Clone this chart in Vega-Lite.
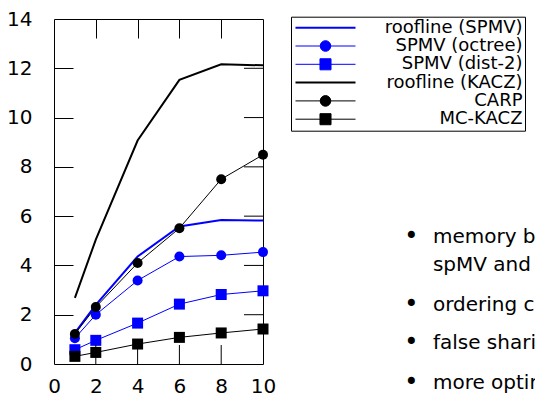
{
  "$schema": "https://vega.github.io/schema/vega-lite/v6.json",
  "autosize": "none",
  "padding": {"left": 54, "top": 19, "right": 272, "bottom": 32},
  "width": 209,
  "height": 345,
  "background": "white",
  "config": {
    "view": {"stroke": "black", "strokeWidth": 1},
    "axis": {"grid": false, "domain": false, "title": null, "labelFlush": false, "labelOverlap": false, "labelFont": "DejaVu Sans", "labelFontSize": 20, "labelColor": "black", "tickColor": "black", "tickWidth": 1},
    "text": {"font": "DejaVu Sans", "color": "black"}
  },
  "datasets": {
    "series": [
      {"series": "roofline (SPMV)", "x": 1, "y": 1.26},
      {"series": "roofline (SPMV)", "x": 2, "y": 2.4},
      {"series": "roofline (SPMV)", "x": 4, "y": 4.36},
      {"series": "roofline (SPMV)", "x": 6, "y": 5.58},
      {"series": "roofline (SPMV)", "x": 8, "y": 5.84},
      {"series": "roofline (SPMV)", "x": 10, "y": 5.82},
      {"series": "SPMV (octree)", "x": 1, "y": 1.05},
      {"series": "SPMV (octree)", "x": 2, "y": 2.0},
      {"series": "SPMV (octree)", "x": 4, "y": 3.39},
      {"series": "SPMV (octree)", "x": 6, "y": 4.36},
      {"series": "SPMV (octree)", "x": 8, "y": 4.41},
      {"series": "SPMV (octree)", "x": 10, "y": 4.54},
      {"series": "SPMV (dist-2)", "x": 1, "y": 0.58},
      {"series": "SPMV (dist-2)", "x": 2, "y": 0.96},
      {"series": "SPMV (dist-2)", "x": 4, "y": 1.66},
      {"series": "SPMV (dist-2)", "x": 6, "y": 2.43},
      {"series": "SPMV (dist-2)", "x": 8, "y": 2.82},
      {"series": "SPMV (dist-2)", "x": 10, "y": 2.97},
      {"series": "roofline (KACZ)", "x": 1, "y": 2.68},
      {"series": "roofline (KACZ)", "x": 2, "y": 5.05},
      {"series": "roofline (KACZ)", "x": 4, "y": 9.07},
      {"series": "roofline (KACZ)", "x": 6, "y": 11.53},
      {"series": "roofline (KACZ)", "x": 8, "y": 12.16},
      {"series": "roofline (KACZ)", "x": 10, "y": 12.12},
      {"series": "CARP", "x": 1, "y": 1.22},
      {"series": "CARP", "x": 2, "y": 2.31},
      {"series": "CARP", "x": 4, "y": 4.1},
      {"series": "CARP", "x": 6, "y": 5.51},
      {"series": "CARP", "x": 8, "y": 7.5},
      {"series": "CARP", "x": 10, "y": 8.49},
      {"series": "MC-KACZ", "x": 1, "y": 0.31},
      {"series": "MC-KACZ", "x": 2, "y": 0.47},
      {"series": "MC-KACZ", "x": 4, "y": 0.81},
      {"series": "MC-KACZ", "x": 6, "y": 1.08},
      {"series": "MC-KACZ", "x": 8, "y": 1.26},
      {"series": "MC-KACZ", "x": 10, "y": 1.42}
    ],
    "tickmarks": [
      {"side": "y", "v": 2}, {"side": "y", "v": 4}, {"side": "y", "v": 6},
      {"side": "y", "v": 8}, {"side": "y", "v": 10}, {"side": "y", "v": 12},
      {"side": "x", "v": 2}, {"side": "x", "v": 4}, {"side": "x", "v": 6}, {"side": "x", "v": 8}
    ],
    "notes": [
      {"x": 18.13, "y": 5.16, "bullet": true, "text": "memory bound kernels"},
      {"x": 18.13, "y": 4.02, "bullet": false, "text": "spMV and CARP"},
      {"x": 18.13, "y": 2.39, "bullet": true, "text": "ordering constraints"},
      {"x": 18.13, "y": 0.85, "bullet": true, "text": "false sharing"},
      {"x": 18.13, "y": -0.77, "bullet": true, "text": "more optimization"}
    ]
  },
  "resolve": {"axis": {"x": "independent", "y": "independent"}},
  "layer": [
    {
      "data": {"name": "series"},
      "mark": {"type": "line"},
      "encoding": {
        "x": {"field": "x", "type": "quantitative", "scale": {"domain": [0, 10], "nice": false, "zero": false},
              "axis": {"orient": "bottom", "values": [0, 2, 4, 6, 8, 10], "labelPadding": 12, "ticks": false}},
        "y": {"field": "y", "type": "quantitative", "scale": {"domain": [0, 14], "nice": false},
              "axis": {"orient": "left", "values": [0, 2, 4, 6, 8, 10, 12, 14], "labelPadding": 22, "ticks": false}},
        "detail": {"field": "series"},
        "strokeWidth": {"field": "series", "type": "nominal", "legend": null,
          "scale": {"type": "ordinal", "domain": ["roofline (SPMV)", "SPMV (octree)", "SPMV (dist-2)", "roofline (KACZ)", "CARP", "MC-KACZ"], "range": [2, 1, 1, 2, 1, 1]}},
        "color": {"field": "series", "type": "nominal",
          "scale": {"domain": ["roofline (SPMV)", "SPMV (octree)", "SPMV (dist-2)", "roofline (KACZ)", "CARP", "MC-KACZ"], "range": ["#0000ff", "#0000ff", "#0000ff", "#000000", "#000000", "#000000"]},
          "legend": {
            "orient": "none", "legendX": 237, "legendY": -2.3, "title": null,
            "padding": 2, "strokeColor": "black", "fillColor": "white",
            "symbolSize": 144, "symbolOffset": 23.5,
            "labelAlign": "right", "labelOffset": 188, "labelFont": "DejaVu Sans", "labelFontSize": 18, "labelColor": "black", "labelLimit": 400,
            "rowPadding": 0.3,
            "encode": {
              "symbols": {
                "update": {
                  "shape": {"signal": "(datum.value == 'CARP' || datum.value == 'SPMV (octree)') ? 'M-5,0H5M0.88,0A0.88,0.88 0 1,1 -0.88,0A0.88,0.88 0 1,1 0.88,0Z' : ((datum.value == 'MC-KACZ' || datum.value == 'SPMV (dist-2)') ? 'M-5,0H5M-0.92,-0.92H0.92V0.92H-0.92Z' : 'M-5,0H5')"},
                  "stroke": {"signal": "indexOf(datum.value, 'SPMV') >= 0 ? '#0000ff' : '#000000'"},
                  "fill": {"signal": "indexOf(datum.value, 'SPMV') >= 0 ? '#0000ff' : '#000000'"},
                  "strokeWidth": {"signal": "indexOf(datum.value, 'roofline') >= 0 ? 2 : 1"},
                  "opacity": {"value": 1}
                }
              }
            }
          }}
      }
    },
    {
      "data": {"name": "series"},
      "transform": [{"filter": {"field": "series", "oneOf": ["SPMV (octree)", "CARP"]}}],
      "mark": {"type": "point", "shape": "circle", "filled": true, "size": 100, "opacity": 1},
      "encoding": {
        "x": {"field": "x", "type": "quantitative", "axis": {"orient": "bottom", "offset": -345, "values": [2, 4, 6, 8], "labels": false, "ticks": true, "tickSize": 19}},
        "y": {"field": "y", "type": "quantitative", "axis": {"orient": "right", "offset": -209, "values": [2, 4, 6, 8, 10, 12], "labels": false, "ticks": true, "tickSize": 19}},
        "color": {"field": "series", "type": "nominal"}
      }
    },
    {
      "data": {"name": "series"},
      "transform": [{"filter": {"field": "series", "oneOf": ["SPMV (dist-2)", "MC-KACZ"]}}],
      "mark": {"type": "point", "shape": "square", "filled": true, "size": 121, "opacity": 1},
      "encoding": {
        "x": {"field": "x", "type": "quantitative", "axis": null},
        "y": {"field": "y", "type": "quantitative", "axis": null},
        "color": {"field": "series", "type": "nominal"}
      }
    },
    {
      "data": {"name": "tickmarks"},
      "transform": [{"filter": {"field": "side", "equal": "y"}}],
      "mark": {"type": "rule", "color": "#000000", "strokeWidth": 1, "opacity": 1},
      "encoding": {
        "y": {"field": "v", "type": "quantitative", "axis": null},
        "x": {"datum": 9.09, "type": "quantitative", "axis": null},
        "x2": {"datum": 10}
      }
    },
    {
      "data": {"name": "tickmarks"},
      "transform": [{"filter": {"field": "side", "equal": "x"}}],
      "mark": {"type": "rule", "color": "#000000", "strokeWidth": 1, "opacity": 1},
      "encoding": {
        "x": {"field": "v", "type": "quantitative", "axis": null},
        "y": {"datum": 0, "type": "quantitative", "axis": null},
        "y2": {"datum": 0.77}
      }
    },
    {
      "data": {"name": "notes"},
      "transform": [{"filter": "datum.bullet"}],
      "mark": {"type": "text", "text": "•", "fontSize": 24, "align": "center", "baseline": "middle", "dx": -21.5, "dy": 0},
      "encoding": {
        "x": {"field": "x", "type": "quantitative", "axis": null},
        "y": {"field": "y", "type": "quantitative", "axis": null}
      }
    },
    {
      "data": {"name": "notes"},
      "mark": {"type": "text", "fontSize": 20, "align": "left", "baseline": "middle"},
      "encoding": {
        "x": {"field": "x", "type": "quantitative", "axis": null},
        "y": {"field": "y", "type": "quantitative", "axis": null},
        "text": {"field": "text"}
      }
    }
  ]
}
